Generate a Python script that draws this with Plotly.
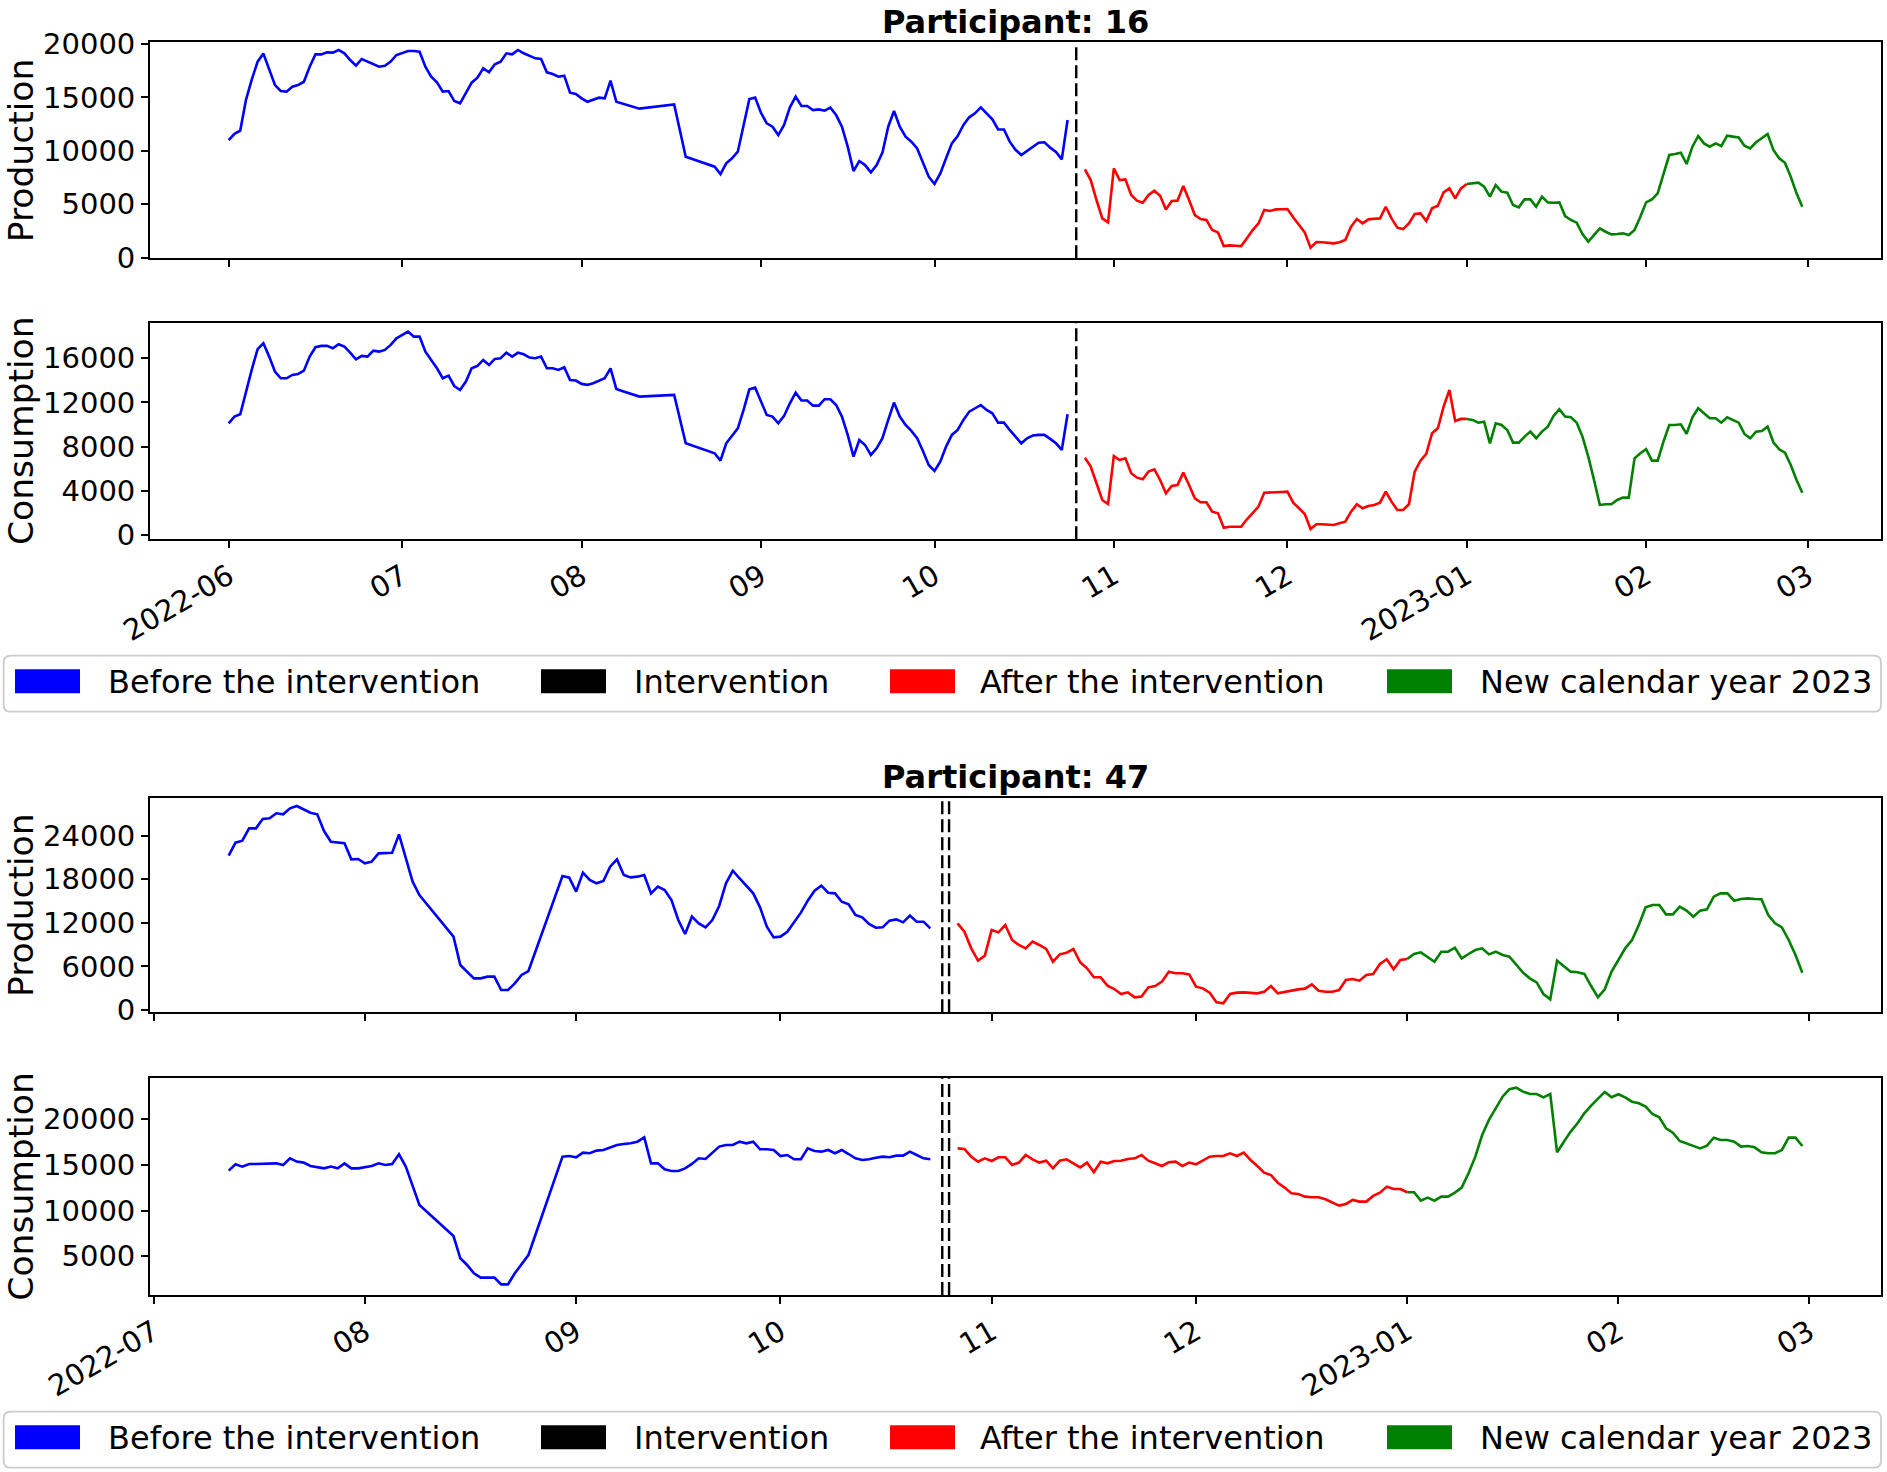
import pandas as pd
import plotly.graph_objects as go

W, H = 1887, 1472
FONT = "DejaVu Sans"
BLUE, RED, GREEN, BLACK = "#0000ff", "#ff0000", "#008000", "#000000"


def days(a, b):
    return [d.strftime("%Y-%m-%d") for d in pd.date_range(a, b, freq="D")]


# ---------------- Participant 16 ----------------
p16_before_dates = (days("2022-06-01", "2022-08-08")
                    + ["2022-08-11", "2022-08-17", "2022-08-19"]
                    + days("2022-08-24", "2022-10-24"))
p16_after_dates = days("2022-10-27", "2023-01-01")
p16_new_dates = days("2023-01-01", "2023-02-28")
p16_intervention = ["2022-10-25 12:00"]

p16_prod_before = [
    11000, 11600, 11900, 14800, 16700, 18350, 19100, 17570, 16160, 15600,
    15540, 16000, 16160, 16470, 17880, 19030, 19030, 19220, 19190, 19440,
    19130, 18500, 17970, 18600, 18350, 18130, 17880, 17970, 18350, 18970,
    19130, 19340, 19340, 19280, 17880, 16940, 16410, 15540, 15600, 14660,
    14450, 15380, 16380, 16850, 17720, 17350, 18100, 18350, 19130, 19030,
    19440, 19130, 18880, 18660, 18600, 17350, 17190, 16940, 17040, 15440,
    15320,
    14910, 14600, 14820, 14980, 14910, 16570, 14600, 14450,
    13950, 14350, 9450,
    8520, 7830, 8830, 9300, 9920, 12260, 14850, 14980,
    13570, 12570, 12260, 11480, 12420, 14070, 15070, 14200, 14200, 13820,
    13880, 13760, 14040, 13350, 12260, 10390, 8110, 9050, 8670, 7990,
    8670, 9830, 12260, 13730, 12260, 11330, 10860, 10230, 8830, 7580,
    6900, 7890, 9300, 10700, 11390, 12420, 13140, 13510, 14070, 13500,
    12950, 12010, 12000, 10860, 10100, 9610, 10000, 10390, 10760, 10800,
    10300, 9900, 9200, 12890,
]
p16_prod_after = [
    8270, 7270, 5400, 3680, 3310,
    8360, 7270, 7330, 5870, 5340, 5150, 5870, 6270, 5800, 4520,
    5300, 5340, 6710, 5400, 3990, 3620, 3530, 2590, 2370, 1090,
    1150, 1120, 1090, 1810, 2590, 3210, 4460, 4370, 4520, 4540,
    4560, 3780, 3060, 2370, 940, 1470, 1440, 1400, 1340, 1440,
    1650, 2900, 3620, 3210, 3590, 3650, 3680, 4770, 3680, 2810,
    2680, 3210, 4090, 4150, 3430, 4620, 4870, 6120, 6490, 5550,
    6490,
    6900,
]
p16_prod_new = [
    6900, 6990, 7020, 6650, 5710, 6800, 6180, 6080, 4930, 4710,
    5460, 5460, 4770, 5710, 5180, 5150, 5180, 3900, 3530, 3280,
    2220, 1500, 2120, 2750, 2430, 2180, 2220, 2280, 2120, 2590,
    3840,
    5180, 5460, 6020, 7830, 9610, 9700, 9830, 8770, 10390, 11390,
    10700, 10390, 10700, 10450, 11420, 11330, 11260, 10480, 10230, 10800,
    11170, 11580, 10080, 9300, 8890, 7580, 6020, 4770,
]
p16_cons_before = [
    10110, 10720, 10930, 13000, 15000, 16820, 17360, 16150, 14790, 14190,
    14190, 14490, 14580, 14880, 16150, 17000, 17120, 17120, 16910, 17270,
    17060, 16510, 15910, 16210, 16150, 16690, 16600, 16760, 17210, 17810,
    18110, 18420, 17960, 17960, 16600, 15850, 15090, 14190, 14430, 13490,
    13130, 13890, 15090, 15310, 15850, 15400, 15940, 16000, 16510, 16150,
    16510, 16360, 16060, 16000, 16150, 15090, 15090, 14940, 15190, 14040,
    13980,
    13680, 13590, 13740, 13980, 14190, 15090, 13220, 13040,
    12530, 12680, 8300,
    7400, 6730, 8300, 8970, 9660, 11320, 13190, 13340,
    12170, 10870, 10720, 10110, 10780, 11920, 12890, 12170, 12170, 11710,
    11710, 12290, 12290, 11770, 10720, 9060, 7090, 8600, 8150, 7250,
    7850, 8760, 10420, 11990, 10720, 9960, 9420, 8760, 7610, 6340,
    5800, 6640, 8000, 9060, 9510, 10420, 11170, 11470, 11770, 11320,
    11020, 10170, 10170, 9510, 8900, 8300, 8760, 9000, 9060, 9060,
    8700, 8300, 7700, 10930,
]
p16_cons_after = [
    7000, 6190, 4680, 3170, 2810,
    7150, 6790, 6940, 5590, 5190, 5040, 5740, 5950, 4980, 3770,
    4440, 4530, 5650, 4530, 3320, 2960, 2960, 2110, 1960, 660,
    750, 750, 750, 1420, 2020, 2570, 3830, 3830, 3860, 3890,
    3920, 2930, 2420, 1900, 540, 970, 970, 940, 910, 1060,
    1210, 2110, 2780, 2420, 2630, 2720, 2930, 3920, 3020, 2260,
    2260, 2780, 5740, 6730, 7340, 9210, 9660, 11620, 13130, 10320,
    10510,
    10510,
]
p16_cons_new = [
    10510, 10420, 10170, 10260, 8300, 10110, 9960, 9510, 8360, 8360,
    8910, 9360, 8760, 9360, 9810, 10780, 11380, 10720, 10660, 10170,
    8910, 7090, 4980, 2720, 2780, 2780, 3170, 3380, 3380, 6940,
    7400,
    7760, 6730, 6730, 8450, 9960, 9960, 10020, 9150, 10660, 11470,
    11020, 10570, 10570, 10170, 10660, 10420, 10170, 9150, 8760, 9360,
    9420, 9810, 8390, 7760, 7460, 6340, 4980, 3830,
]

# ---------------- Participant 47 ----------------
p47_before_dates = (days("2022-07-12", "2022-08-09")
                    + days("2022-08-14", "2022-08-25")
                    + days("2022-08-30", "2022-10-23"))
p47_after_dates = days("2022-10-27", "2023-01-01")
p47_new_dates = days("2023-01-01", "2023-02-28")
p47_intervention = ["2022-10-24 18:00", "2022-10-25 18:00"]

p47_prod_before = [
    21250, 23040, 23310, 25010, 25010, 26290, 26390, 27080, 26940, 27760,
    28090, 27630, 27170, 26940, 24640, 23170, 23080, 22950, 20740, 20790,
    20190, 20420, 21570, 21570, 21660, 24180, 20880, 17670, 15830,
    10100, 6200, 5280, 4360, 4360, 4590, 4590, 2750, 2750, 3670, 4820, 5370,
    18450, 18220,
    16290, 18910, 17900, 17440, 17760, 19730, 20740, 18590, 18260, 18360,
    18590, 16060, 16980, 16520, 15140, 12390, 10460, 12850, 11930, 11380,
    12390, 14320, 17440, 19180, 18130, 17070, 16060, 14130, 11470, 10000,
    10100, 10780, 12160, 13400, 15050, 16430, 17120, 16150, 16060, 14910,
    14550, 13080, 12760, 11840, 11330, 11380, 12300, 12480, 12070, 12990,
    12160, 12160, 11240,
]
p47_prod_after = [
    11930, 10780, 8490, 6790, 7480,
    11010, 10690, 11700, 9640, 8950, 8490, 9410, 8950, 8400, 6650,
    7660, 7890, 8400, 6560, 5740, 4500, 4500, 3350, 2890, 2200,
    2430, 1740, 1840, 3120, 3300, 3900, 5280, 5050, 5050, 4910,
    3210, 2980, 2390, 1060, 920, 2200, 2390, 2430, 2390, 2290,
    2520, 3300, 2290, 2480, 2750, 2840, 2940, 3530, 2660, 2520,
    2520, 2750, 4130, 4270, 4040, 4820, 4960, 6330, 6980, 5600,
    6880,
    7020,
]
p47_prod_new = [
    7020, 7710, 7940, 7250, 6650, 8030, 8030, 8580, 7110, 7710,
    8260, 8490, 7660, 8030, 7570, 7340, 6290, 5140, 4360, 3810,
    2200, 1470, 6790, 5970, 5280, 5190, 4960, 3300, 1740, 2850,
    5280,
    6880, 8490, 9640, 11700, 14130, 14460, 14460, 13170, 13170, 14230,
    13680, 12850, 13680, 13860, 15600, 16060, 16060, 15050, 15280, 15370,
    15280, 15240, 13080, 11930, 11380, 9640, 7570, 5140,
]
p47_cons_before = [
    14380, 15070, 14820, 15110, 15110, 15110, 15110, 15180, 15000, 15730,
    15370, 15260, 14890, 14740, 14630, 14820, 14630, 15180, 14630, 14630,
    14740, 14890, 15180, 15000, 15110, 16170, 14820, 12630, 10620,
    7220, 4780, 4050, 3140, 2660, 2660, 2660, 1930, 1930, 3140, 4100, 5140,
    15910, 15980,
    15840, 16350, 16280, 16570, 16640, 16930, 17190, 17300, 17370, 17550,
    18030, 15180, 15180, 14530, 14340, 14340, 14630, 15110, 15730, 15660,
    16350, 17010, 17190, 17190, 17550, 17370, 17550, 16720, 16720, 16640,
    15980, 16090, 15620, 15620, 16820, 16530, 16460, 16640, 16280, 16640,
    16200, 15730, 15550, 15620, 15800, 15910, 15840, 16020, 16020, 16460,
    16090, 15730, 15620,
]
p47_cons_after = [
    16820, 16750, 15910, 15360, 15730,
    15440, 15840, 15840, 15000, 15260, 16090, 15620, 15260, 15470, 14630,
    15470, 15620, 15180, 14740, 15260, 14200, 15360, 15180, 15440, 15470,
    15660, 15730, 16090, 15470, 15180, 14890, 15290, 15360, 14890, 15260,
    15070, 15470, 15910, 15980, 15980, 16280, 15980, 16350, 15550, 14890,
    14160, 13900, 13060, 12520, 11900, 11820, 11530, 11460, 11460, 11240,
    10880, 10550, 10730, 11170, 10990, 10990, 11610, 11970, 12630, 12370,
    12370,
    12010,
]
p47_cons_new = [
    12010, 12010, 11090, 11420, 11090, 11530, 11530, 11970, 12520, 14090,
    15910, 18280, 19930, 21200, 22480, 23290, 23470, 23030, 22770, 22770,
    22410, 22770, 16390, 17550, 18650, 19560, 20660, 21500, 22300, 23000,
    22410,
    22740, 22410, 21930, 21750, 21390, 20580, 20220, 19010, 18540, 17630,
    17370, 17080, 16820, 17120, 17990, 17740, 17740, 17550, 17010, 17080,
    16930, 16390, 16280, 16280, 16640, 17990, 17990, 17080,
]

# tick labels
p16_tick_dates = ["2022-06-01", "2022-07-01", "2022-08-01", "2022-09-01", "2022-10-01",
                  "2022-11-01", "2022-12-01", "2023-01-01", "2023-02-01", "2023-03-01"]
p16_tick_text = ["2022-06", "07", "08", "09", "10", "11", "12", "2023-01", "02", "03"]
p47_tick_dates = ["2022-07-01", "2022-08-01", "2022-09-01", "2022-10-01",
                  "2022-11-01", "2022-12-01", "2023-01-01", "2023-02-01", "2023-03-01"]
p47_tick_text = ["2022-07", "08", "09", "10", "11", "12", "2023-01", "02", "03"]

prod16_ticks = [0, 5000, 10000, 15000, 20000]
cons16_ticks = [0, 4000, 8000, 12000, 16000]
prod47_ticks = [0, 6000, 12000, 18000, 24000]
cons47_ticks = [5000, 10000, 15000, 20000]

legend_labels = ["Before the intervention", "Intervention", "After the intervention",
                 "New calendar year 2023"]
legend_colors = [BLUE, BLACK, RED, GREEN]

# ---------------- figure ----------------
fig = go.Figure()

LEFT, RIGHT = 150, 1881
panels = [  # (top px, bottom px)
    (42.3, 258.3),
    (322.7, 539.3),
    (797.7, 1012.3),
    (1078.3, 1295.0),
]
yranges = [[-56, 20160], [-390, 19220], [-317, 29230], [762, 24490]]


def px(x):
    return x / W


def py(y):
    return 1 - y / H


def xrange_of(first, last):
    a, b = pd.Timestamp(first), pd.Timestamp(last)
    m = (b - a) * 0.05
    return [(a - m).strftime("%Y-%m-%d %H:%M"), (b + m).strftime("%Y-%m-%d %H:%M")]


series = [
    (p16_before_dates, p16_after_dates, p16_new_dates, p16_prod_before, p16_prod_after, p16_prod_new),
    (p16_before_dates, p16_after_dates, p16_new_dates, p16_cons_before, p16_cons_after, p16_cons_new),
    (p47_before_dates, p47_after_dates, p47_new_dates, p47_prod_before, p47_prod_after, p47_prod_new),
    (p47_before_dates, p47_after_dates, p47_new_dates, p47_cons_before, p47_cons_after, p47_cons_new),
]
interventions = [p16_intervention, p16_intervention, p47_intervention, p47_intervention]
ylabels = ["Production", "Consumption", "Production", "Consumption"]
yticks = [prod16_ticks, cons16_ticks, prod47_ticks, cons47_ticks]
xticks = [(p16_tick_dates, p16_tick_text, False), (p16_tick_dates, p16_tick_text, True),
          (p47_tick_dates, p47_tick_text, False), (p47_tick_dates, p47_tick_text, True)]
xranges = [xrange_of(p16_before_dates[0], p16_new_dates[-1])] * 2 + \
          [xrange_of(p47_before_dates[0], p47_new_dates[-1])] * 2

LW = 2.6
TICK_SIZE = 29
layout = dict(
    width=W, height=H, margin=dict(l=0, r=0, t=0, b=0, pad=0, autoexpand=False),
    paper_bgcolor="white", plot_bgcolor="white", showlegend=False,
    font=dict(family=FONT, color="black", size=TICK_SIZE),
)
shapes, annotations = [], []

for i, (bd, ad, nd, bv, av, nv) in enumerate(series):
    n = i + 1
    xa = "x" if n == 1 else f"x{n}"
    ya = "y" if n == 1 else f"y{n}"
    for d, v, c in ((bd, bv, BLUE), (ad, av, RED), (nd, nv, GREEN)):
        fig.add_trace(go.Scatter(x=d, y=v, mode="lines", line=dict(color=c, width=LW),
                                 xaxis=xa, yaxis=ya, hoverinfo="skip"))
    top, bot = panels[i]
    tv, tt, show = xticks[i]
    layout["xaxis" if n == 1 else f"xaxis{n}"] = dict(
        domain=[px(LEFT), px(RIGHT)], anchor=ya, type="date", range=xranges[i],
        tickmode="array", tickvals=tv, ticktext=tt, showticklabels=show, tickangle=-30,
        ticks="outside", ticklen=7, tickwidth=1.8, tickcolor="black",
        showline=True, linecolor="black", linewidth=1.8, mirror=True,
        showgrid=False, zeroline=False, automargin=False,
        tickfont=dict(family=FONT, size=TICK_SIZE, color="black"),
    )
    layout["yaxis" if n == 1 else f"yaxis{n}"] = dict(
        domain=[py(bot), py(top)], anchor=xa, range=yranges[i],
        tickmode="array", tickvals=yticks[i], ticktext=[str(t) for t in yticks[i]],
        ticks="outside", ticklen=7, tickwidth=1.8, tickcolor="black",
        showline=True, linecolor="black", linewidth=1.8, mirror=True,
        showgrid=False, zeroline=False, automargin=False,
        tickfont=dict(family=FONT, size=TICK_SIZE, color="black"),
    )
    for d in interventions[i]:
        shapes.append(dict(type="line", xref=xa, yref=f"{ya} domain", x0=d, x1=d, y0=0, y1=1,
                           line=dict(color="black", width=2.4, dash="13px,5px")))
    annotations.append(dict(text=ylabels[i], textangle=-90, x=px(21), y=py((top + bot) / 2),
                            xref="paper", yref="paper", xanchor="center", yanchor="middle",
                            showarrow=False, font=dict(family=FONT, size=34.5, color="black")))

# titles
for title, yc in (("Participant: 16", 22), ("Participant: 47", 777)):
    annotations.append(dict(text=f"<b>{title}</b>", x=px((LEFT + RIGHT) / 2), y=py(yc),
                            xref="paper", yref="paper", xanchor="center", yanchor="middle",
                            showarrow=False, font=dict(family=FONT, size=32, color="black")))

# legends (one under each participant)
patch_x = [15, 541, 890, 1387]
text_x = [106, 632, 978, 1478]
for box_top in (655.7, 1411.7):
    x0, x1, y0, y1, r = 3.6, 1881, box_top, box_top + 56, 7
    path = (f"M {px(x0 + r)},{py(y0)} L {px(x1 - r)},{py(y0)} Q {px(x1)},{py(y0)} {px(x1)},{py(y0 + r)} "
            f"L {px(x1)},{py(y1 - r)} Q {px(x1)},{py(y1)} {px(x1 - r)},{py(y1)} "
            f"L {px(x0 + r)},{py(y1)} Q {px(x0)},{py(y1)} {px(x0)},{py(y1 - r)} "
            f"L {px(x0)},{py(y0 + r)} Q {px(x0)},{py(y0)} {px(x0 + r)},{py(y0)} Z")
    shapes.append(dict(type="path", xref="paper", yref="paper", path=path,
                       line=dict(color="#cccccc", width=1.8), fillcolor="rgba(255,255,255,0.8)"))
    for lab, col, pxl, txl in zip(legend_labels, legend_colors, patch_x, text_x):
        shapes.append(dict(type="rect", xref="paper", yref="paper",
                           x0=px(pxl), x1=px(pxl + 65), y0=py(box_top + 37.5), y1=py(box_top + 13.5),
                           line=dict(width=0), fillcolor=col))
        annotations.append(dict(text=lab, x=px(txl), y=py(box_top + 26), xref="paper", yref="paper",
                                xanchor="left", yanchor="middle", showarrow=False,
                                font=dict(family=FONT, size=32, color="black")))

layout["shapes"] = shapes
layout["annotations"] = annotations
fig.update_layout(**layout)

fig.write_html("out.html", config={"displayModeBar": False},
               post_script="document.body.style.margin='0px';document.body.style.overflow='hidden';")
